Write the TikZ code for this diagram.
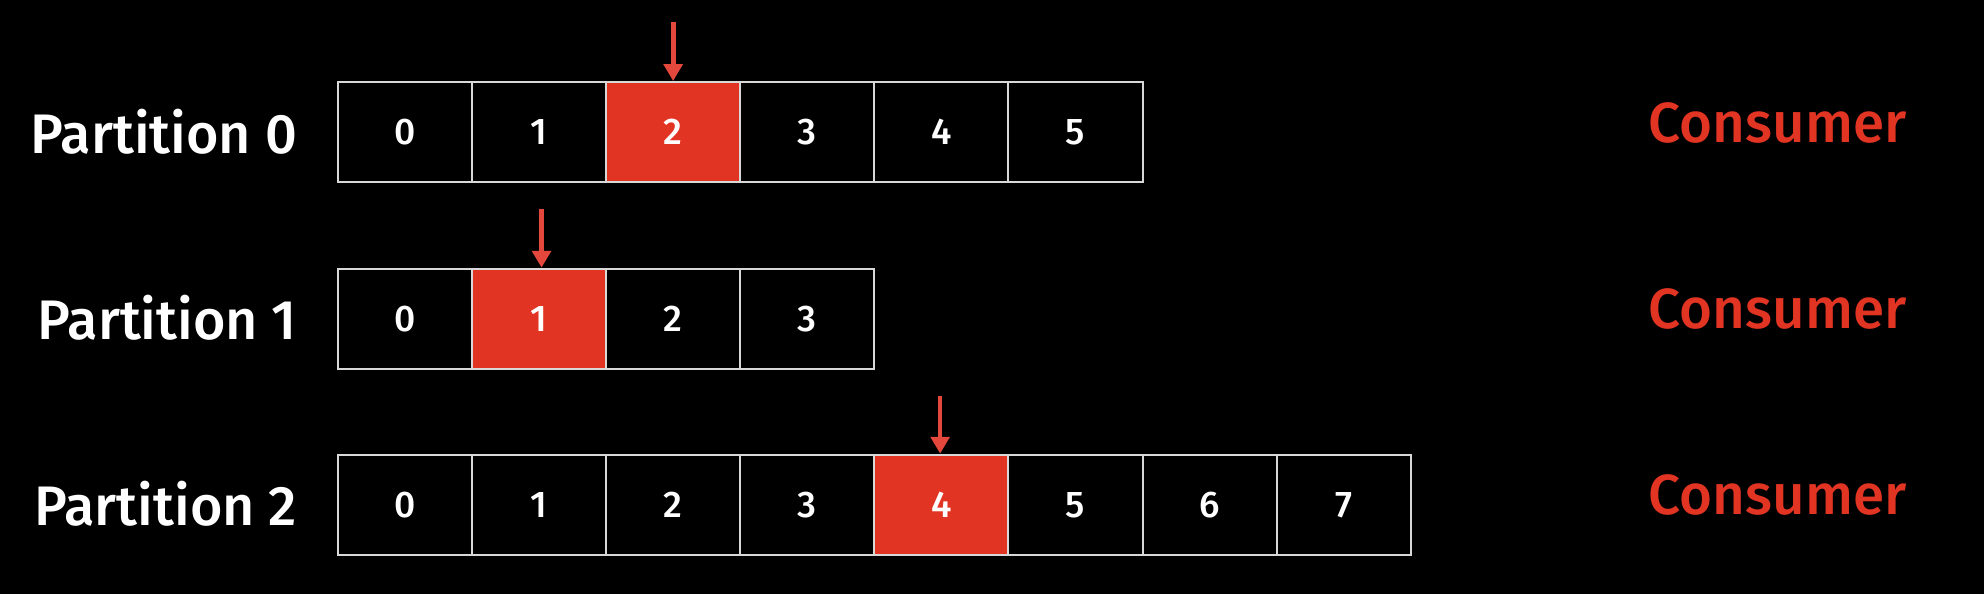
\documentclass[tikz,border=0pt]{standalone}
\usepackage{fontspec}
\setmainfont{Fira Sans Medium}
\definecolor{offsetred}{HTML}{E23423}
\definecolor{arrowred}{HTML}{E4473B}
\definecolor{cellline}{HTML}{D8D8D8}
\tikzset{
  cell/.style={draw=cellline, line width=1.2pt, fill=black, text=white, minimum width=79.5pt, minimum height=59.5pt, inner sep=0pt, font=\fontsize{22}{22}\selectfont},
  current/.style={fill=offsetred},
  partlabel/.style={text=white, anchor=east, inner sep=0pt, font=\fontsize{33}{33}\selectfont},
  consumer/.style={text=offsetred, inner sep=0pt, font=\fontsize{33.5}{33.5}\selectfont},
  ptr/.style={arrowred, line width=2.8pt, -{Triangle[width=11pt,length=10pt]}}
}
\usetikzlibrary{arrows.meta}
\begin{document}
\begin{tikzpicture}[x=0.75pt, y=-0.75pt]
\useasboundingbox (0,0) rectangle (1568,469);
\fill[black] (-5,-5) rectangle (1573,474); % background
% partition 0
\node[partlabel] (p0) at (235,104) {Partition 0};
\foreach \i in {0,...,5} \node[cell] (p0c\i) at (320+106*\i,104.5) {\i};
\node[cell, current] (p0c2) at (532,104.5) {2};
\coordinate (a0) at (532,17);
\draw[ptr] (a0) -- (p0c2.north); % offset arrow
\node[consumer] (c0) at (1405,97) {Consumer};
% partition 1
\node[partlabel] (p1) at (235,251) {Partition 1};
\foreach \i in {0,...,3} \node[cell] (p1c\i) at (320+106*\i,252) {\i};
\node[cell, current] (p1c1) at (426,252) {1};
\coordinate (a1) at (428,165);
\draw[ptr] (a1) -- (p1c1.north -| a1); % offset arrow
\node[consumer] (c1) at (1405,244) {Consumer};
% partition 2
\node[partlabel] (p2) at (235,398) {Partition 2};
\foreach \i in {0,...,7} \node[cell] (p2c\i) at (320+106*\i,399) {\i};
\node[cell, current] (p2c4) at (744,399) {4};
\coordinate (a2) at (743,313);
\draw[ptr] (a2) -- (p2c4.north -| a2); % offset arrow
\node[consumer] (c2) at (1405,391) {Consumer};
\end{tikzpicture}
\end{document}
